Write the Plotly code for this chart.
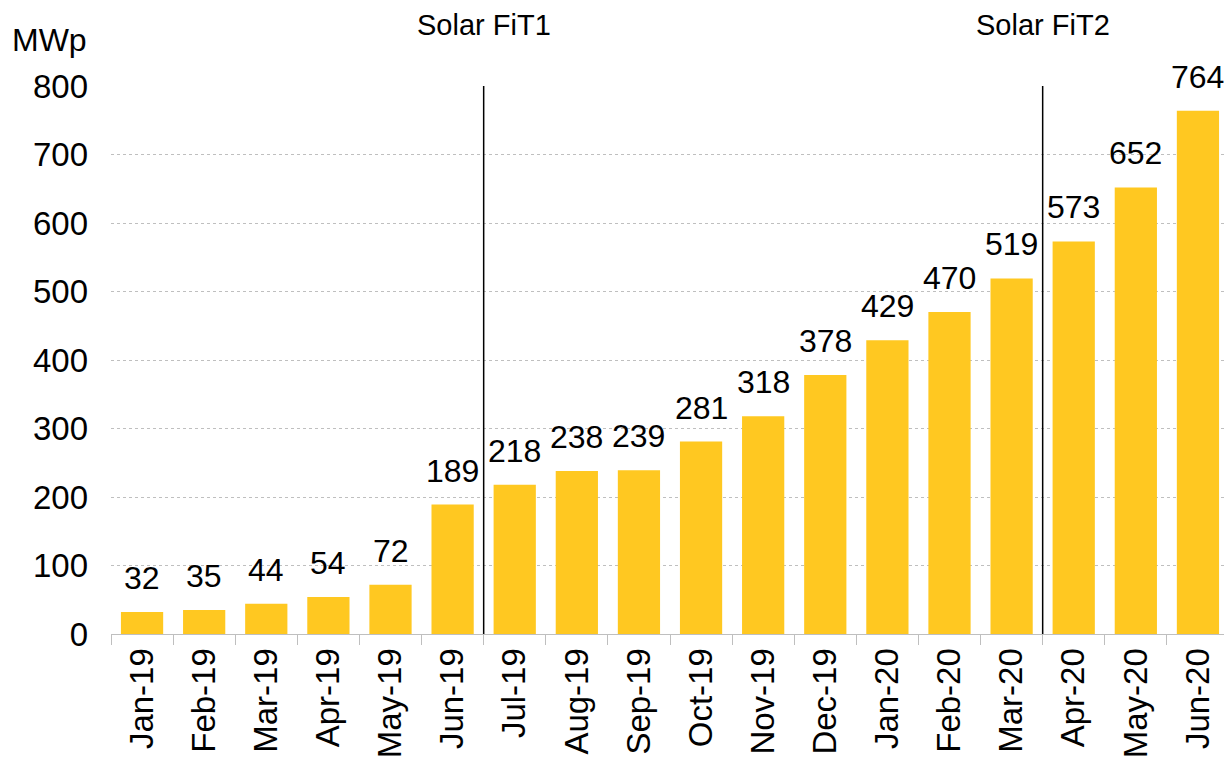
import plotly.graph_objects as go

# monthly cumulative capacity, MWp
months = ["Jan-19", "Feb-19", "Mar-19", "Apr-19", "May-19", "Jun-19",
          "Jul-19", "Aug-19", "Sep-19", "Oct-19", "Nov-19", "Dec-19",
          "Jan-20", "Feb-20", "Mar-20", "Apr-20", "May-20", "Jun-20"]
capacity = [32, 35, 44, 54, 72, 189, 218, 238, 239, 281, 318, 378,
            429, 470, 519, 573, 652, 764]
y_ticks = [0, 100, 200, 300, 400, 500, 600, 700, 800]

# scheme changes: line drawn before these months
phase_starts = ["Jul-19", "Apr-20"]
phase_names = ["Solar FiT1", "Solar FiT2"]

font = "Liberation Sans, Arial, sans-serif"

fig = go.Figure()
fig.add_trace(go.Bar(x=months, y=capacity, marker_color="#FFC821",
                     marker_line_width=0, hoverinfo="x+y"))

# value labels above bars
for m, v in zip(months, capacity):
    fig.add_annotation(x=m, y=v, text=str(v), showarrow=False,
                       yanchor="bottom", yshift=14,
                       font=dict(size=32, color="black", family=font))

# phase separators and titles
for m, name in zip(phase_starts, phase_names):
    pos = months.index(m) - 0.5
    fig.add_shape(type="line", x0=pos, x1=pos, y0=0, y1=1, yref="paper",
                  line=dict(color="black", width=1.5))
    fig.add_annotation(x=pos, y=1.112, yref="paper", text=name, showarrow=False,
                       xanchor="center", yanchor="middle",
                       font=dict(size=29, color="black", family=font))

fig.add_annotation(x=-0.0546, y=1.084, xref="paper", yref="paper", text="MWp",
                   showarrow=False, xanchor="center", yanchor="middle",
                   font=dict(size=32, color="black", family=font))

# page body has an 8px margin, so the figure is a bit smaller than the window
fig.update_layout(
    width=1222, height=752,
    margin=dict(l=103, r=1, t=78, b=126),
    plot_bgcolor="white", paper_bgcolor="white",
    bargap=0.32, showlegend=False,
    font=dict(family=font, color="black"),
)
fig.update_xaxes(tickangle=-90, tickfont=dict(size=33), ticks="outside",
                 tickson="boundaries", ticklen=10, tickcolor="#BFBFBF",
                 showline=True, linecolor="#BFBFBF", linewidth=1,
                 showgrid=False, range=[-0.5, len(months) - 0.5])
fig.update_yaxes(range=[0, 800], tickvals=y_ticks, tickfont=dict(size=33),
                 showgrid=True, gridcolor="#BFBFBF", griddash="dot", gridwidth=1,
                 zeroline=False, showline=False, ticks="", ticklabelstandoff=22)

fig.write_html("out.html")
